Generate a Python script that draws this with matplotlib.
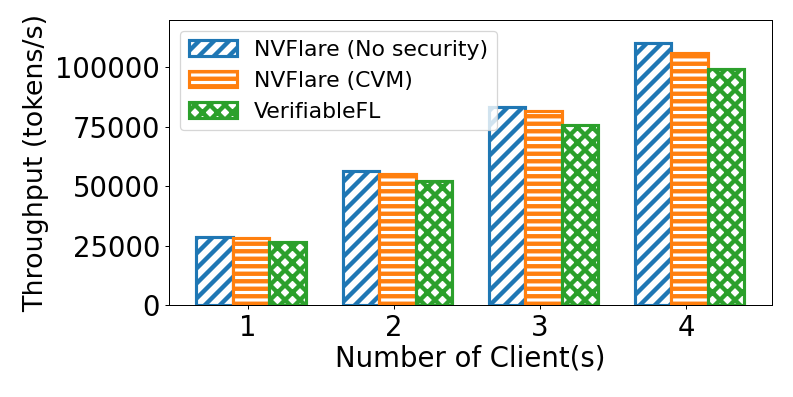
import numpy as np
import matplotlib
matplotlib.use("Agg")
import matplotlib.pyplot as plt

categories = ["1", "2", "3", "4"]
series_names = ["NVFlare (No security)", "NVFlare (CVM)", "VerifiableFL"]
no_security = [28570, 56540, 83400, 110130]
cvm = [28140, 54990, 81860, 106030]
verifiable = [26710, 52040, 75820, 99160]
yticks = [0, 25000, 50000, 75000, 100000]

colors = ["#1f77b4", "#ff7f0e", "#2ca02c"]
hatches = ["//", "--", "xx"]

plt.rcParams["hatch.linewidth"] = 3.5

DPI = 90
fig = plt.figure(figsize=(793 / DPI, 397 / DPI), dpi=DPI)
ax = fig.add_axes([169 / 793, 1 - 305 / 397, (771.7 - 169) / 793, (305 - 20) / 397])

x = np.arange(1, len(categories) + 1)
width = 0.25
shift = 0.024
for k, (vals, name) in enumerate(zip([no_security, cvm, verifiable], series_names)):
    ax.bar(x + (k - 1) * width + shift, vals, width, label=name,
           facecolor="white", edgecolor=colors[k], hatch=hatches[k],
           linewidth=2.5)

ax.set_xticks(x)
ax.set_xticklabels(categories)
ax.set_yticks(yticks)
ax.set_ylim(0, 120000)
ax.tick_params(labelsize=22)
ax.set_xlabel("Number of Client(s)", fontsize=22, labelpad=2)
ax.set_ylabel("Throughput (tokens/s)", fontsize=21.5, labelpad=5)
ax.legend(loc="upper left", fontsize=17.5, handlelength=2.2)

fig.savefig("out.png", dpi=DPI)
